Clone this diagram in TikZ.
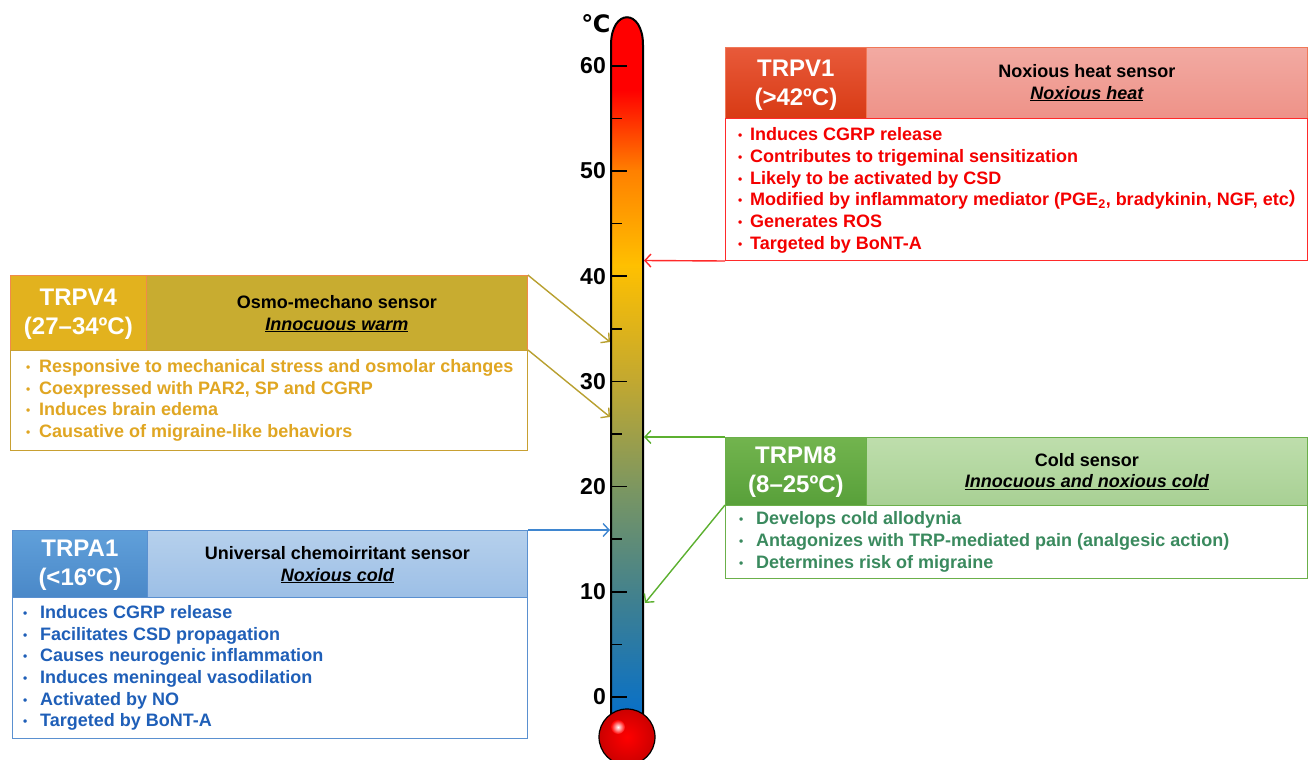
\documentclass[tikz,border=0pt]{standalone}
\usepackage{fontspec}
\setmainfont{Liberation Sans}
\newfontfamily\cjk{Noto Sans CJK SC}
\newfontfamily\djv{DejaVu Sans}
\usetikzlibrary{arrows.meta}
\definecolor{vOneDkT}{HTML}{E85A3A}\definecolor{vOneDkB}{HTML}{D83A14}
\definecolor{vOneLtT}{HTML}{F2AAA2}\definecolor{vOneLtB}{HTML}{EE9288}
\definecolor{vOneTxt}{HTML}{F40000}\definecolor{vOneBrd}{HTML}{FF2A2A}
\definecolor{vOneHb}{HTML}{F07858}
\definecolor{vFourDk}{HTML}{E2B21E}\definecolor{vFourLt}{HTML}{C8AC30}
\definecolor{vFourTxt}{HTML}{E0A622}\definecolor{vFourBrd}{HTML}{C8A032}
\definecolor{vFourHb}{HTML}{F08A4A}\definecolor{vFourArr}{HTML}{B8A030}
\definecolor{mDkT}{HTML}{72B44E}\definecolor{mDkB}{HTML}{58A03A}
\definecolor{mLtT}{HTML}{BEDEAC}\definecolor{mLtB}{HTML}{A8D094}
\definecolor{mTxt}{HTML}{3A8A5E}\definecolor{mBrd}{HTML}{6BB04A}
\definecolor{mArr}{HTML}{5CB030}
\definecolor{aDkT}{HTML}{60A0DA}\definecolor{aDkB}{HTML}{4A88C8}
\definecolor{aLtT}{HTML}{B6D0EC}\definecolor{aLtB}{HTML}{9CBFE6}
\definecolor{aTxt}{HTML}{1F5FB8}\definecolor{aBrd}{HTML}{5A90D0}
\definecolor{aArr}{HTML}{3F86D0}
\definecolor{thA}{HTML}{FF0000}\definecolor{thB}{HTML}{FF8000}
\definecolor{thC}{HTML}{FFC000}\definecolor{thD}{HTML}{C2A830}
\definecolor{thE}{HTML}{7A9662}\definecolor{thF}{HTML}{3F8090}
\definecolor{thG}{HTML}{0870C8}
\newcommand\bl[1][13pt]{\makebox[#1][l]{\raisebox{1pt}{\fontsize{12}{12}\selectfont •}}}
\begin{document}
\begin{tikzpicture}[x=1pt,y=-1pt,
  hdr/.style={draw, rectangle, inner sep=0pt, anchor=north west, line width=0.8pt},
  ttl/.style={text=white, align=center, font=\bfseries\fontsize{24}{29}\selectfont},
  sub/.style={text=black, align=center, font=\bfseries\fontsize{18}{21.5}\selectfont},
  bodybox/.style={draw, rectangle, fill=white, anchor=north west, inner sep=0pt, line width=1pt},
  btext/.style={anchor=west, align=left, inner sep=0pt, font=\bfseries\fontsize{18}{21.7}\selectfont},
  arr/.style={line width=1.4pt, -{Straight Barb[length=6pt,width=13pt]}},
  tlab/.style={anchor=east, inner sep=0pt, font=\bfseries\fontsize{23}{23}\selectfont},
  ]
\useasboundingbox (0,0) rectangle (1310,760);
% ---------- thermometer ----------
\shade[top color=thA, bottom color=thA] (611,40) rectangle (643,91);
\shade[top color=thA, bottom color=thB] (611,90) rectangle (643,171);
\shade[top color=thB, bottom color=thC] (611,170) rectangle (643,266);
\shade[top color=thC, bottom color=thD] (611,265) rectangle (643,381);
\shade[top color=thD, bottom color=thE] (611,380) rectangle (643,491);
\shade[top color=thE, bottom color=thF] (611,490) rectangle (643,601);
\shade[top color=thF, bottom color=thG] (611,600) rectangle (643,715);
\fill[thA] (611,46) .. controls (611,8) and (643,8) .. (643,46) -- cycle;
\draw[line width=2pt] (611,714) -- (611,45) .. controls (611,8) and (643,8) .. (643,45) -- (643,714);
\foreach \t in {0,10,...,60} {
  \draw[line width=1.5pt] (611,{697-10.52*\t}) -- (627,{697-10.52*\t});
  \node[tlab] (lab\t) at (606,{697-10.52*\t}) {\t};
}
\foreach \t in {5,15,...,55} {
  \draw[line width=1.5pt] (611,{697-10.52*\t}) -- (622,{697-10.52*\t});
}
\node[inner sep=0pt, font=\djv\bfseries\fontsize{24}{24}\selectfont] (unit) at (596,24) {℃};
\shade[inner color=thA, outer color=red!80!black] (627,737) circle (28pt);
\shade[inner color=white, outer color=thA] (618,727) circle (7pt);
\draw[line width=1.2pt] (627,737) circle (28pt);
\coordinate (p42) at (644,260.5);
\coordinate (p34) at (610,342);
\coordinate (p27) at (610,417);
\coordinate (p25) at (644,437);
\coordinate (p8) at (645,603);
\coordinate (p16) at (610,530);
% ---------- TRPV1 ----------
\node[hdr, draw=vOneHb, top color=vOneDkT, bottom color=vOneDkB, minimum width=141pt, minimum height=71pt] (v1L) at (725,47) {};
\node[hdr, draw=vOneHb, top color=vOneLtT, bottom color=vOneLtB, minimum width=441pt, minimum height=71pt] (v1R) at (866,47) {};
\node[ttl] (v1Lt) at ([yshift=-2pt]v1L.center) {TRPV1\\(>42ºC)};
\node[sub] (v1Rt) at (v1R.center) {Noxious heat sensor\\\underline{\itshape Noxious heat}};
\node[bodybox, draw=vOneBrd, minimum width=582pt, minimum height=142pt] (v1B) at (725,118) {};
\node[btext, text=vOneTxt] (v1T) at ([xshift=13pt,yshift=-1pt]v1B.west) {\bl[12pt]Induces CGRP release\\
\bl[12pt]Contributes to trigeminal sensitization\\
\bl[12pt]Likely to be activated by CSD\\
\bl[12pt]Modified by inflammatory mediator (PGE\textsubscript{2}, bradykinin, NGF, etc{\cjk ）}\\
\bl[12pt]Generates ROS\\
\bl[12pt]Targeted by BoNT-A};
% ---------- TRPV4 ----------
\node[hdr, draw=vFourHb, fill=vFourDk, minimum width=136pt, minimum height=75pt] (v4L) at (10,275) {};
\node[hdr, draw=vFourHb, fill=vFourLt, minimum width=381pt, minimum height=75pt] (v4R) at (146,275) {};
\node[ttl] (v4Lt) at ([yshift=-1pt]v4L.center) {TRPV4\\(27–34ºC)};
\node[sub] (v4Rt) at ([yshift=-1pt]v4R.center) {Osmo-mechano sensor\\\underline{\itshape Innocuous warm}};
\node[bodybox, draw=vFourBrd, minimum width=517pt, minimum height=100pt] (v4B) at (10,350) {};
\node[btext, text=vFourTxt] (v4T) at ([xshift=16pt]v4B.west) {\bl Responsive to mechanical stress and osmolar changes\\
\bl Coexpressed with PAR2, SP and CGRP\\
\bl Induces brain edema\\
\bl Causative of migraine-like behaviors};
% ---------- TRPM8 ----------
\node[hdr, draw=mBrd, top color=mDkT, bottom color=mDkB, minimum width=141pt, minimum height=68pt] (m8L) at (725,437) {};
\node[hdr, draw=mBrd, top color=mLtT, bottom color=mLtB, minimum width=441pt, minimum height=68pt] (m8R) at (866,437) {};
\node[ttl] (m8Lt) at ([yshift=-1pt]m8L.center) {TRPM8\\(8–25ºC)};
\node[sub] (m8Rt) at (m8R.center) {Cold sensor\\\underline{\itshape Innocuous and noxious cold}};
\node[bodybox, draw=mBrd, minimum width=582pt, minimum height=73pt] (m8B) at (725,505) {};
\node[btext, text=mTxt] (m8T) at ([xshift=14pt]m8B.west) {\bl[17pt]Develops cold allodynia\\
\bl[17pt]Antagonizes with TRP-mediated pain (analgesic action)\\
\bl[17pt]Determines risk of migraine};
% ---------- TRPA1 ----------
\node[hdr, draw=aBrd, top color=aDkT, bottom color=aDkB, minimum width=135pt, minimum height=67pt] (a1L) at (12,530) {};
\node[hdr, draw=aBrd, top color=aLtT, bottom color=aLtB, minimum width=380pt, minimum height=67pt] (a1R) at (147,530) {};
\node[ttl] (a1Lt) at ([yshift=-1pt]a1L.center) {TRPA1\\(<16ºC)};
\node[sub] (a1Rt) at ([yshift=-1pt]a1R.center) {Universal chemoirritant sensor\\\underline{\itshape Noxious cold}};
\node[bodybox, draw=aBrd, minimum width=515pt, minimum height=141pt] (a1B) at (12,597) {};
\node[btext, text=aTxt] (a1T) at ([xshift=11pt]a1B.west) {\bl[17pt]Induces CGRP release\\
\bl[17pt]Facilitates CSD propagation\\
\bl[17pt]Causes neurogenic inflammation\\
\bl[17pt]Induces meningeal vasodilation\\
\bl[17pt]Activated by NO\\
\bl[17pt]Targeted by BoNT-A};
% ---------- arrows ----------
\draw[arr, vOneBrd] (v1B.south west) -- (p42);
\draw[arr, vFourArr] (v4R.north east) -- (p34);
\draw[arr, vFourArr] (v4B.north east) -- (p27);
\draw[arr, mArr] (m8L.north west) -- (p25);
\draw[arr, mArr] (m8B.north west) -- (p8);
\draw[arr, aArr] (a1R.north east) -- (p16);
\end{tikzpicture}
\end{document}
